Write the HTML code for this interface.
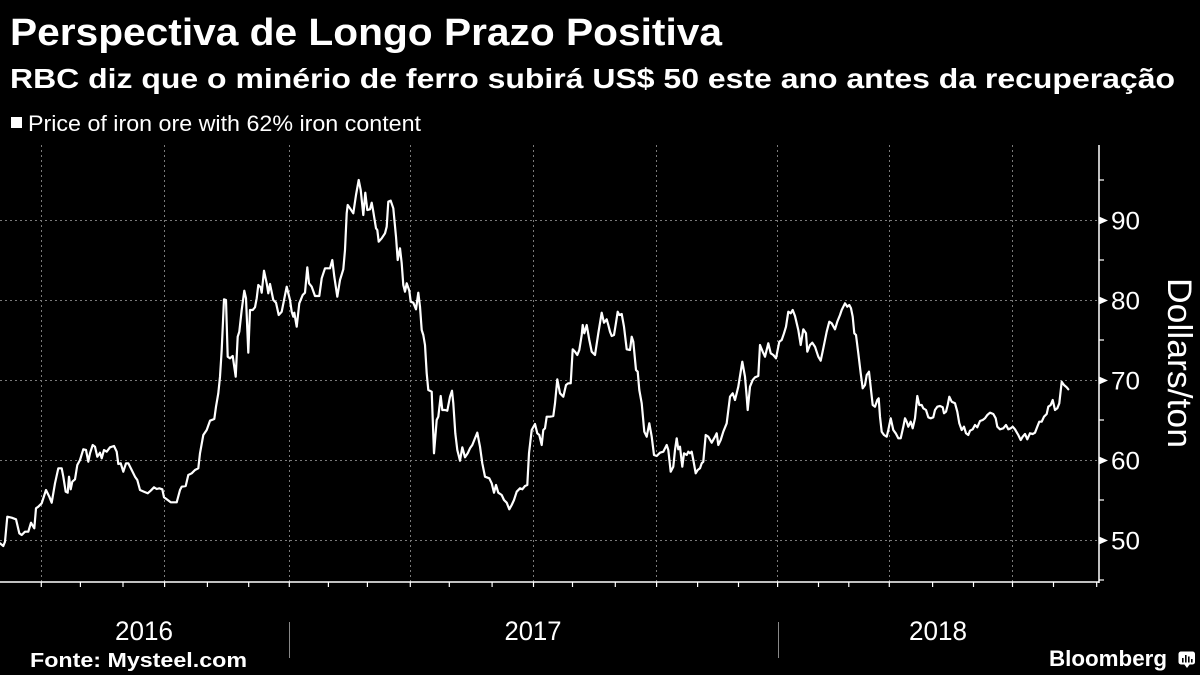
<!DOCTYPE html>
<html>
<head>
<meta charset="utf-8">
<style>
html,body{margin:0;padding:0;background:#000;}
body{width:1200px;height:675px;overflow:hidden;}
svg{display:block;}
text{font-family:"Liberation Sans", sans-serif;fill:#fff;}
</style>
</head>
<body>
<svg width="1200" height="675" viewBox="0 0 1200 675" xmlns="http://www.w3.org/2000/svg">
<rect x="0" y="0" width="1200" height="675" fill="#000"/>

<!-- Titles -->
<text x="10" y="45" font-size="38" font-weight="bold" textLength="712" lengthAdjust="spacingAndGlyphs">Perspectiva de Longo Prazo Positiva</text>
<text x="10" y="88" font-size="28" font-weight="bold" textLength="1165" lengthAdjust="spacingAndGlyphs">RBC diz que o minério de ferro subirá US$ 50 este ano antes da recuperação</text>

<!-- Legend -->
<rect x="11" y="117" width="11" height="11" fill="#fff"/>
<text x="28" y="131" font-size="22" fill="#eee" textLength="393" lengthAdjust="spacingAndGlyphs">Price of iron ore with 62% iron content</text>

<!-- Gridlines horizontal -->
<g stroke="#7a7a7a" stroke-width="1" stroke-dasharray="2,3">
<line x1="0" y1="220.5" x2="1099" y2="220.5"/>
<line x1="0" y1="300.5" x2="1099" y2="300.5"/>
<line x1="0" y1="380.5" x2="1099" y2="380.5"/>
<line x1="0" y1="460.5" x2="1099" y2="460.5"/>
<line x1="0" y1="540.5" x2="1099" y2="540.5"/>
</g>
<!-- Gridlines vertical -->
<g stroke="#7a7a7a" stroke-width="1" stroke-dasharray="2,3">
<line x1="41.5" y1="145" x2="41.5" y2="582"/>
<line x1="164.5" y1="145" x2="164.5" y2="582"/>
<line x1="289.5" y1="145" x2="289.5" y2="582"/>
<line x1="410.5" y1="145" x2="410.5" y2="582"/>
<line x1="533.5" y1="145" x2="533.5" y2="582"/>
<line x1="656.5" y1="145" x2="656.5" y2="582"/>
<line x1="777.5" y1="145" x2="777.5" y2="582"/>
<line x1="889.5" y1="145" x2="889.5" y2="582"/>
<line x1="1012.5" y1="145" x2="1012.5" y2="582"/>
</g>

<!-- Axes -->
<line x1="1099" y1="145" x2="1099" y2="583" stroke="#fff" stroke-width="1.5"/>
<line x1="0" y1="582" x2="1099.5" y2="582" stroke="#fff" stroke-width="1.5"/>

<!-- Y minor ticks -->
<g stroke="#fff" stroke-width="1.2">
<line x1="1099" y1="180" x2="1104" y2="180"/>
<line x1="1099" y1="260" x2="1104" y2="260"/>
<line x1="1099" y1="340" x2="1104" y2="340"/>
<line x1="1099" y1="420" x2="1104" y2="420"/>
<line x1="1099" y1="500" x2="1104" y2="500"/>
<line x1="1099" y1="580" x2="1104" y2="580"/>
</g>
<!-- Y major tick pointers -->
<g fill="#fff">
<polygon points="1099,216.5 1108,220.5 1099,224.5"/>
<polygon points="1099,296.5 1108,300.5 1099,304.5"/>
<polygon points="1099,376.5 1108,380.5 1099,384.5"/>
<polygon points="1099,456.5 1108,460.5 1099,464.5"/>
<polygon points="1099,536.5 1108,540.5 1099,544.5"/>
</g>
<!-- Y labels -->
<g font-size="25">
<text x="1111" y="229.5" textLength="29" lengthAdjust="spacingAndGlyphs">90</text>
<text x="1111" y="309.5" textLength="29" lengthAdjust="spacingAndGlyphs">80</text>
<text x="1111" y="389.5" textLength="29" lengthAdjust="spacingAndGlyphs">70</text>
<text x="1111" y="469.5" textLength="29" lengthAdjust="spacingAndGlyphs">60</text>
<text x="1111" y="549.5" textLength="29" lengthAdjust="spacingAndGlyphs">50</text>
</g>
<text transform="translate(1168,278) rotate(90)" font-size="34" textLength="170" lengthAdjust="spacingAndGlyphs">Dollars/ton</text>

<!-- X ticks -->
<g stroke="#fff" stroke-width="1.2">
<line x1="41.3" y1="582" x2="41.3" y2="587"/>
<line x1="80.4" y1="582" x2="80.4" y2="587"/>
<line x1="123" y1="582" x2="123" y2="587"/>
<line x1="164.6" y1="582" x2="164.6" y2="587"/>
<line x1="207.4" y1="582" x2="207.4" y2="587"/>
<line x1="248.7" y1="582" x2="248.7" y2="587"/>
<line x1="289.3" y1="582" x2="289.3" y2="587"/>
<line x1="328.4" y1="582" x2="328.4" y2="587"/>
<line x1="367.4" y1="582" x2="367.4" y2="587"/>
<line x1="410.3" y1="582" x2="410.3" y2="587"/>
<line x1="449.3" y1="582" x2="449.3" y2="587"/>
<line x1="492.1" y1="582" x2="492.1" y2="587"/>
<line x1="533.5" y1="582" x2="533.5" y2="587"/>
<line x1="572.5" y1="582" x2="572.5" y2="587"/>
<line x1="615.3" y1="582" x2="615.3" y2="587"/>
<line x1="656.6" y1="582" x2="656.6" y2="587"/>
<line x1="697.6" y1="582" x2="697.6" y2="587"/>
<line x1="738.5" y1="582" x2="738.5" y2="587"/>
<line x1="777.6" y1="582" x2="777.6" y2="587"/>
<line x1="818.5" y1="582" x2="818.5" y2="587"/>
<line x1="848.8" y1="582" x2="848.8" y2="587"/>
<line x1="889.3" y1="582" x2="889.3" y2="587"/>
<line x1="932.6" y1="582" x2="932.6" y2="587"/>
<line x1="973.5" y1="582" x2="973.5" y2="587"/>
<line x1="1012.5" y1="582" x2="1012.5" y2="587"/>
<line x1="1053.5" y1="582" x2="1053.5" y2="587"/>
<line x1="1096.7" y1="582" x2="1096.7" y2="587"/>
</g>

<!-- Year separators -->
<g stroke="#888" stroke-width="1">
<line x1="289.5" y1="622" x2="289.5" y2="658"/>
<line x1="778.5" y1="622" x2="778.5" y2="658"/>
</g>
<!-- Year labels -->
<g font-size="27">
<text x="115" y="640" textLength="58" lengthAdjust="spacingAndGlyphs">2016</text>
<text x="504.5" y="640" textLength="57" lengthAdjust="spacingAndGlyphs">2017</text>
<text x="909" y="640" textLength="58" lengthAdjust="spacingAndGlyphs">2018</text>
</g>

<!-- Series line -->
<polyline fill="none" stroke="#fff" stroke-width="2.2" stroke-linejoin="round" stroke-linecap="round" points="0,543.3 3.3,546 5,541.7 7.3,516.7 11.7,517.7 16,519.3 19.3,533.3 21.7,535 25,531.7 28.3,531.7 31,522.7 33.3,526.7 34.3,528.3 36,508.3 38.3,506.7 41.7,503.3 46,490 49.3,496.7 51.7,502.7 55,483.3 58.3,468.3 61.7,468.3 63.3,476.7 65.7,491.7 67.7,492.7 69,476.7 70.7,489.3 72.3,481.7 75,479.3 77.3,465 80,460 83.3,449.3 86,450 88.3,461.7 90,453.3 92.7,445 95,446.7 97.3,456.7 100,452.7 101.7,458.3 104,450 106.7,451.7 110,447.3 114,446 116.7,451.7 118.3,464 120.7,463.3 123.3,471.7 126,463.3 128.3,463.3 131.7,470 135,476.7 137.3,480 140,490 144,491.7 147.7,493.3 150.7,490.7 154,487.3 156.7,489 159.3,488.3 162.3,489.3 164,497.3 166.7,499.3 170.7,502.3 176.7,502.3 180,490 181.7,486.7 185.7,486 188.3,475 191.7,473.3 195,470 198.3,468.3 200,453.3 203.3,435 206.7,430 210,420.7 214.3,419 216,406.7 218.3,393.3 220,376.7 221.7,350 224,299.3 226,300 227.7,356.7 230,358.3 232.7,356 235.7,376.7 237.7,336.7 239.3,331.7 241.7,310 244.3,290.7 246,298.3 248.3,352.7 250,310 252.7,310 255,307.3 256.7,298.3 258.3,285 260.7,287.3 261.7,292.7 264,270.7 266.7,283.3 268.3,293.3 270,284 273.3,300 276,302.7 278.7,315 281.7,311.7 286.7,286.7 290,300 291.7,311.7 293.3,316.7 294.3,312.7 296.7,326.7 299.3,303.3 302.7,295 305,292.7 307.3,267.3 309,283.3 311.7,286.7 315,296 319.3,296 321.7,278.3 325,268.3 330,268.3 332.3,260 334.3,276.7 337.3,296.7 340,280 343.3,269.3 345,250 346.7,213.3 347.7,205 350,208.3 353.3,213.3 356,195 358.7,180 360.7,190 363.3,215 365.3,192.7 367.3,210 370,209.3 371.7,202.7 373.3,211.7 376,228.3 377.3,230 378.7,241.7 381.7,238.3 385,233.3 386.7,226.7 388.3,201.7 390.7,200.7 393.3,208.3 396,236.7 397.7,260 400,248.3 401.7,263.3 403.3,285 405,291.7 406.7,283.3 409.3,290.7 410.7,301.7 413.3,302.7 416,309.3 418.3,292.7 420,306.7 421.7,330 423.3,335 425,345 426.7,373.3 428.3,390 431.7,391.7 434,453.3 436.7,420 438.3,416.7 440.7,396 442.3,410 445,410 447.3,410.7 450,396.7 452,390.7 453.3,403.3 455.3,433.3 457.3,450 460,460.7 462.3,447.3 465,457.3 467.7,453.3 470,448.3 472.3,445 474.3,440 477.3,432.7 480,446.7 482.3,463.3 485,476.7 489.3,478.3 491.7,483.3 494,492.7 496,485 498.3,492.7 501.7,495 504,500 506.7,502.7 509.3,509.3 511.7,505 514,500 516.7,491.7 520,488.3 522.3,489.3 525,486 527.3,485 529,453.3 531.7,430 535,424 537.3,433.3 539.3,435 541.7,445 543.3,430 545,428.3 546.7,416.7 550,416.7 553.3,416 555,403.3 557.3,379.3 560,393.3 563.3,396.7 566,385 568.3,383.3 570.7,383.3 572.7,349.3 575,351.7 577.3,355 579.3,350 581.7,335 582.7,325 584.3,333.3 586.7,325 589.3,340 591.7,351.7 595,355 598.3,333.3 601.7,312.7 604,322.7 606.7,319.3 608.3,325 610,331.7 611.7,336 614,335 616,322.7 617.7,311.7 619.3,315 621.7,314 624,326.7 626.7,349.3 630,350 631.7,336.7 633.3,341.7 636,370 637.7,371.7 639.3,390 641.7,403.3 644.3,431.7 646.7,436.7 649.3,423.3 651.7,436.7 654,455 656.7,456 660,452.7 663.3,451.7 666.7,445 668.3,450 670.7,471.7 673.3,466.7 675,450 676.7,438.3 678.3,449.3 680,446.7 682.3,466.7 684,453.3 686.7,455 688.3,451.7 690,453.3 691.7,451.7 693.3,460 695.7,473.3 697.7,470 700,468.3 701.7,463.3 703.3,461.7 705.7,435 708.3,436.7 711.7,442.7 715,436.7 716.7,433.3 718.3,445 720.7,440 723.3,431.7 726.7,423.3 730,396.7 732.7,393.3 735,400 738.3,386.7 742.3,361.7 745,376.7 746.7,396.7 747.7,410 750,386.7 752.7,380 755,377.3 758.3,376 760,345 762.7,351.7 765,356.7 768.3,343.3 770.7,353.3 773.3,355 776,358.3 779.3,341.7 781.7,340 784,333.3 786,326.7 788.3,311.7 790.7,313.3 792.7,310 795,316 798.3,330 800.7,345 803.3,329.3 806,333.3 807.3,351.7 810,345 812.3,342.7 815,346.7 818.3,356.7 820.7,360.7 823.3,348.3 826.7,331.7 829.3,321.7 831.7,323.3 835,329.3 837.3,321.7 840,315 841.7,310 845,303.3 847.3,306.7 849.3,305 851,308.3 852.7,316.7 854.3,333.3 856,335 858.3,353.3 860.7,373.3 862.7,388.3 865,385 866.7,375 869,371.7 871,390 872.7,405 875,406.7 877.3,400 878.7,398.3 880,416.7 881.7,431.7 884,435 886.7,436.7 888.3,430 890.7,418.3 893.3,430 895.7,433.3 898.3,438.3 900.7,438.3 903.3,426.7 905,418.3 906.7,421.7 908.3,426.7 910.7,421.7 912.7,428.3 915,418.3 917.3,396 919.3,405 921.7,405 923.3,408.3 926,410 928.3,417.3 930.7,418.3 933.3,417.3 935,410 937.3,406.7 940,406 942.7,407.3 944,413.3 946,411.7 947.7,405 949.3,396.7 951.7,401.7 955,403.3 957.3,411.7 959.3,423.3 961.7,430 964,426.7 966,433.3 968.3,435 970,430.7 972.7,429.3 975,425 977.3,427.3 980,421 982.7,420 985,418.3 987.3,415 990,412.7 993.3,414 995.7,418.3 997.3,426.7 1000,429.3 1003.3,428.3 1006,425 1008.3,429.3 1010.7,428.3 1012.7,426.7 1015,429.3 1018.3,435 1020.7,440 1022.7,436.7 1025,434 1027.3,439.3 1030,433.3 1032.7,434 1035,432.7 1037.3,426.7 1039.3,421.7 1041.7,421.7 1044,416.7 1046.7,414 1048.3,406.7 1050.7,405 1052.7,400 1055,410 1057.3,408.3 1059.3,403.3 1061.7,381.7 1064,385 1066.7,387.3 1068.3,389.3"/>

<!-- Footer -->
<text x="30" y="667" font-size="20" font-weight="bold" textLength="217" lengthAdjust="spacingAndGlyphs">Fonte: Mysteel.com</text>
<text x="1049" y="666" font-size="22" font-weight="bold" textLength="118" lengthAdjust="spacingAndGlyphs">Bloomberg</text>
<!-- Bloomberg icon -->
<g>
<rect x="1178.5" y="651.5" width="16.5" height="13" rx="2.5" fill="#fff"/>
<polygon points="1184,664 1190,664 1187,668" fill="#fff"/>
<rect x="1182" y="658" width="1.6" height="4.5" fill="#000"/>
<rect x="1185" y="655" width="1.6" height="7.5" fill="#000"/>
<rect x="1188" y="656.5" width="1.6" height="6" fill="#000"/>
<rect x="1191" y="659" width="1.6" height="3.5" fill="#000"/>
</g>
</svg>
</body>
</html>
